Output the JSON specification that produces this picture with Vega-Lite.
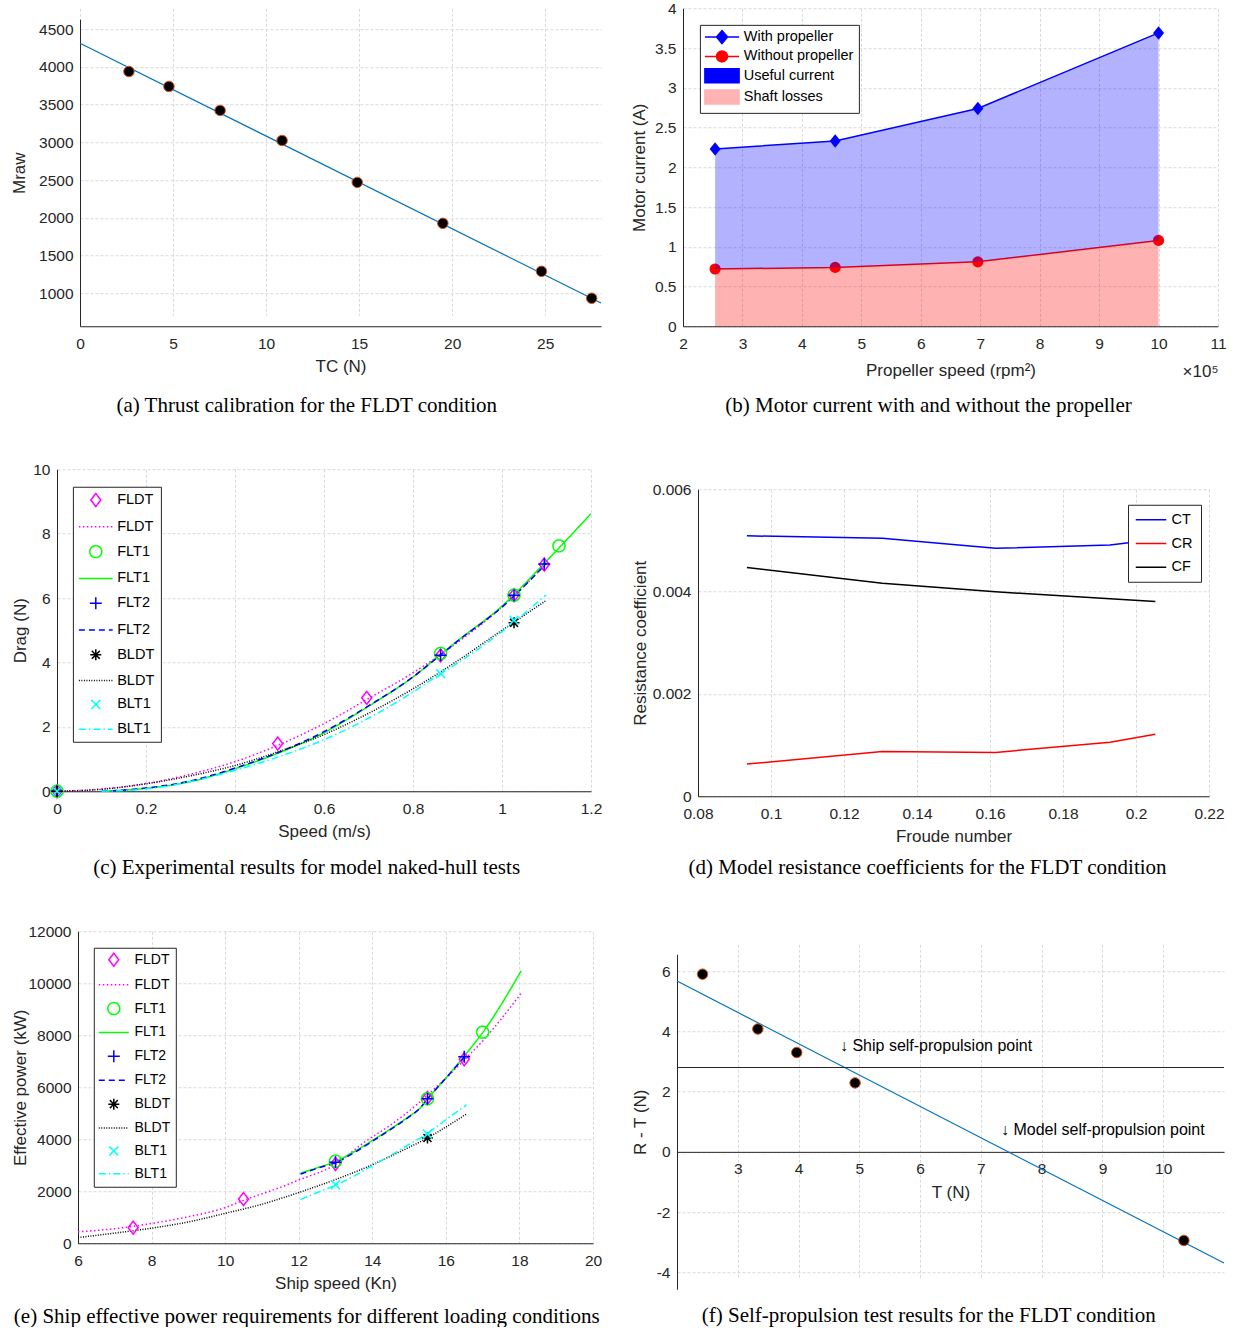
{
"$schema": "https://vega.github.io/schema/vega-lite/v6.json",
"background": "white",
"padding": {"left": 10, "top": 1.25, "right": 0, "bottom": 0},
"config": {
  "font": "Liberation Sans",
  "view": {"stroke": null},
  "axis": {"labelFont": "Liberation Sans", "titleFont": "Liberation Sans", "labelFontSize": 15.5, "titleFontSize": 17, "titleFontWeight": "normal", "labelColor": "#262626", "titleColor": "#262626", "domainColor": "#262626", "domainWidth": 1, "ticks": false, "gridColor": "#d9d9d9", "gridDash": [3, 2], "gridWidth": 1, "labelOverlap": false, "labelFlush": false, "labelBound": false},
  "axisX": {"labelPadding": 10, "titlePadding": 7.2},
  "axisY": {"labelPadding": 7},
  "title": {"font": "Liberation Serif", "fontSize": 21, "fontWeight": "normal", "color": "#000000", "orient": "bottom", "frame": "bounds", "anchor": "middle"},
  "legend": {"labelFont": "Liberation Sans", "labelColor": "#000000", "strokeColor": "#262626", "fillColor": "white", "symbolStrokeWidth": 1.5, "symbolSize": 100, "labelLimit": 400}
},
"resolve": {"scale": {"color": "independent", "shape": "independent", "strokeDash": "independent", "fill": "independent", "stroke": "independent"}, "legend": {"color": "independent", "shape": "independent", "strokeDash": "independent", "fill": "independent", "stroke": "independent"}},
"spacing": 26,
"hconcat": [
 {
  "spacing": 46,
  "resolve": {"scale": {"color": "independent", "shape": "independent", "strokeDash": "independent", "fill": "independent", "stroke": "independent"}, "legend": {"color": "independent", "shape": "independent", "strokeDash": "independent", "fill": "independent", "stroke": "independent"}},
  "vconcat": [
   {
    "width": 544, "height": 318,
    "title": {"text": "(a) Thrust calibration for the FLDT condition", "offset": 20},
    "layer": [
     {
      "data": {"values": [{"tc": 0, "m": 4315}, {"tc": 28, "m": 871}]},
      "mark": {"type": "line", "color": "#0072bd", "strokeWidth": 1.2},
      "encoding": {
       "x": {"field": "tc", "type": "quantitative", "scale": {"domain": [0, 28], "range": [23, 544], "nice": false, "zero": false}, "axis": {"title": "TC (N)", "values": [0, 5, 10, 15, 20, 25], "format": "d"}},
       "y": {"field": "m", "type": "quantitative", "scale": {"domain": [562.5, 4632.6], "range": [318, 11], "nice": false, "zero": false}, "axis": {"title": "Mraw", "values": [1000, 1500, 2000, 2500, 3000, 3500, 4000, 4500], "format": "d", "titlePadding": 10.5, "offset": -23}}
      }
     },
     {
      "data": {"values": [{"tc": 2.63, "m": 3940}, {"tc": 4.78, "m": 3742}, {"tc": 7.53, "m": 3424}, {"tc": 10.86, "m": 3026}, {"tc": 14.9, "m": 2470}, {"tc": 19.5, "m": 1927}, {"tc": 24.8, "m": 1291}, {"tc": 27.5, "m": 934}]},
      "mark": {"type": "point", "shape": "circle", "filled": true, "fill": "#000000", "stroke": "#d95319", "strokeWidth": 1, "size": 110, "opacity": 1},
      "encoding": {"x": {"field": "tc", "type": "quantitative"}, "y": {"field": "m", "type": "quantitative"}}
     }
    ]
   },
   {
    "width": 534, "height": 322,
    "title": {"text": "(c) Experimental results for model naked-hull tests", "offset": 17},
    "resolve": {"scale": {"color": "independent", "strokeDash": "independent", "shape": "independent"}},
    "layer": [
     {
      "data": {"values": [
       {"key": "FLDT-l", "v": 0, "d": 0}, {"key": "FLDT-l", "v": 0.1, "d": 0.07}, {"key": "FLDT-l", "v": 0.2, "d": 0.24}, {"key": "FLDT-l", "v": 0.3, "d": 0.53}, {"key": "FLDT-l", "v": 0.4, "d": 0.92}, {"key": "FLDT-l", "v": 0.5, "d": 1.45}, {"key": "FLDT-l", "v": 0.6, "d": 2.1}, {"key": "FLDT-l", "v": 0.7, "d": 2.88}, {"key": "FLDT-l", "v": 0.8, "d": 3.68}, {"key": "FLDT-l", "v": 0.9, "d": 4.62}, {"key": "FLDT-l", "v": 1.0, "d": 5.72}, {"key": "FLDT-l", "v": 1.1, "d": 7.08},
       {"key": "FLT1-l", "v": 0.1, "d": 0}, {"key": "FLT1-l", "v": 0.2, "d": 0.09}, {"key": "FLT1-l", "v": 0.3, "d": 0.3}, {"key": "FLT1-l", "v": 0.4, "d": 0.7}, {"key": "FLT1-l", "v": 0.5, "d": 1.2}, {"key": "FLT1-l", "v": 0.6, "d": 1.82}, {"key": "FLT1-l", "v": 0.7, "d": 2.64}, {"key": "FLT1-l", "v": 0.8, "d": 3.55}, {"key": "FLT1-l", "v": 0.862, "d": 4.25}, {"key": "FLT1-l", "v": 0.9, "d": 4.67}, {"key": "FLT1-l", "v": 1.0, "d": 5.75}, {"key": "FLT1-l", "v": 1.1, "d": 7.15}, {"key": "FLT1-l", "v": 1.2, "d": 8.62},
       {"key": "FLT2-l", "v": 0.1, "d": 0}, {"key": "FLT2-l", "v": 0.2, "d": 0.1}, {"key": "FLT2-l", "v": 0.3, "d": 0.32}, {"key": "FLT2-l", "v": 0.4, "d": 0.72}, {"key": "FLT2-l", "v": 0.5, "d": 1.22}, {"key": "FLT2-l", "v": 0.6, "d": 1.85}, {"key": "FLT2-l", "v": 0.7, "d": 2.65}, {"key": "FLT2-l", "v": 0.8, "d": 3.55}, {"key": "FLT2-l", "v": 0.862, "d": 4.23}, {"key": "FLT2-l", "v": 0.9, "d": 4.66}, {"key": "FLT2-l", "v": 1.0, "d": 5.72}, {"key": "FLT2-l", "v": 1.1, "d": 7.08},
       {"key": "BLDT-l", "v": 0, "d": 0}, {"key": "BLDT-l", "v": 0.1, "d": 0.06}, {"key": "BLDT-l", "v": 0.2, "d": 0.23}, {"key": "BLDT-l", "v": 0.3, "d": 0.48}, {"key": "BLDT-l", "v": 0.4, "d": 0.8}, {"key": "BLDT-l", "v": 0.5, "d": 1.24}, {"key": "BLDT-l", "v": 0.6, "d": 1.76}, {"key": "BLDT-l", "v": 0.7, "d": 2.42}, {"key": "BLDT-l", "v": 0.8, "d": 3.18}, {"key": "BLDT-l", "v": 0.9, "d": 4.05}, {"key": "BLDT-l", "v": 1.0, "d": 5.0}, {"key": "BLDT-l", "v": 1.1, "d": 5.93},
       {"key": "BLT1-l", "v": 0.1, "d": 0}, {"key": "BLT1-l", "v": 0.2, "d": 0.07}, {"key": "BLT1-l", "v": 0.3, "d": 0.3}, {"key": "BLT1-l", "v": 0.4, "d": 0.65}, {"key": "BLT1-l", "v": 0.5, "d": 1.08}, {"key": "BLT1-l", "v": 0.6, "d": 1.6}, {"key": "BLT1-l", "v": 0.7, "d": 2.27}, {"key": "BLT1-l", "v": 0.8, "d": 3.08}, {"key": "BLT1-l", "v": 0.862, "d": 3.65}, {"key": "BLT1-l", "v": 0.9, "d": 3.98}, {"key": "BLT1-l", "v": 1.0, "d": 4.96}, {"key": "BLT1-l", "v": 1.1, "d": 6.11}
      ]},
      "mark": {"type": "line", "strokeWidth": 1.5, "interpolate": "monotone"},
      "encoding": {
       "x": {"field": "v", "type": "quantitative", "scale": {"domain": [0, 1.2], "nice": false, "zero": false}, "axis": {"title": "Speed (m/s)", "values": [0, 0.2, 0.4, 0.6, 0.8, 1, 1.2], "format": "~g"}},
       "y": {"field": "d", "type": "quantitative", "scale": {"domain": [0, 10], "nice": false}, "axis": {"title": "Drag (N)", "values": [0, 2, 4, 6, 8, 10], "format": "d", "titlePadding": 3.3}},
       "color": {"field": "key", "type": "nominal", "scale": {"domain": ["FLDT-l", "FLT1-l", "FLT2-l", "BLDT-l", "BLT1-l"], "range": ["#ff00ff", "#00ff00", "#0000ff", "#000000", "#00ffff"]}, "legend": null},
       "strokeDash": {"field": "key", "type": "nominal", "scale": {"domain": ["FLDT-l", "FLT1-l", "FLT2-l", "BLDT-l", "BLT1-l"], "range": [[1.5, 2.5], [1, 0], [6, 4], [1, 1.5], [7, 3, 1.5, 3]]}, "legend": null}
      }
     },
     {
      "data": {"values": [
       {"key": "FLDT-m", "v": 0, "d": 0}, {"key": "FLDT-m", "v": 0.496, "d": 1.48}, {"key": "FLDT-m", "v": 0.696, "d": 2.9}, {"key": "FLDT-m", "v": 0.862, "d": 4.22}, {"key": "FLDT-m", "v": 1.027, "d": 6.09}, {"key": "FLDT-m", "v": 1.095, "d": 7.04},
       {"key": "FLT1-m", "v": 0, "d": 0}, {"key": "FLT1-m", "v": 0.862, "d": 4.28}, {"key": "FLT1-m", "v": 1.027, "d": 6.09}, {"key": "FLT1-m", "v": 1.128, "d": 7.62},
       {"key": "FLT2-m", "v": 0, "d": 0}, {"key": "FLT2-m", "v": 0.862, "d": 4.22}, {"key": "FLT2-m", "v": 1.027, "d": 6.09}, {"key": "FLT2-m", "v": 1.095, "d": 7.06},
       {"key": "BLDT-m", "v": 0, "d": 0}, {"key": "BLDT-m", "v": 1.027, "d": 5.23},
       {"key": "BLT1-m", "v": 0, "d": 0}, {"key": "BLT1-m", "v": 0.862, "d": 3.65}, {"key": "BLT1-m", "v": 1.027, "d": 5.31}
      ]},
      "mark": {"type": "point", "filled": false, "size": 100, "strokeWidth": 1.5, "opacity": 1},
      "encoding": {
       "x": {"field": "v", "type": "quantitative"},
       "y": {"field": "d", "type": "quantitative"},
       "color": {"field": "key", "type": "nominal", "scale": {"domain": ["FLDT-m", "FLDT-l", "FLT1-m", "FLT1-l", "FLT2-m", "FLT2-l", "BLDT-m", "BLDT-l", "BLT1-m", "BLT1-l"], "range": ["#ff00ff", "#ff00ff", "#00ff00", "#00ff00", "#0000ff", "#0000ff", "#000000", "#000000", "#00ffff", "#00ffff"]},
        "legend": {"title": null, "orient": "none", "legendX": 15.9, "legendY": 17.5, "direction": "vertical", "padding": 6, "rowPadding": 8.8, "symbolOffset": 9.65, "labelOffset": 14.15, "labelFontSize": 14.5, "labelExpr": "split(datum.label, '-')[0]"}},
       "shape": {"field": "key", "type": "nominal", "scale": {"domain": ["FLDT-m", "FLDT-l", "FLT1-m", "FLT1-l", "FLT2-m", "FLT2-l", "BLDT-m", "BLDT-l", "BLT1-m", "BLT1-l"], "range": ["M0,-1.3L1,0L0,1.3L-1,0Z", "M-3.38,0H3.38", "M1.2,0A1.2,1.2,0,1,1,-1.2,0A1.2,1.2,0,1,1,1.2,0Z", "M-3.38,0H3.38", "M-1.2,0H1.2M0,-1.2V1.2", "M-3.38,0H3.38", "M-1.1,0H1.1M0,-1.1V1.1M-0.8,-0.8L0.8,0.8M-0.8,0.8L0.8,-0.8", "M-3.38,0H3.38", "M-0.9,-0.9L0.9,0.9M-0.9,0.9L0.9,-0.9", "M-3.38,0H3.38"]},
        "legend": {"title": null, "orient": "none", "legendX": 15.9, "legendY": 17.5, "direction": "vertical", "padding": 6, "rowPadding": 8.8, "symbolOffset": 9.65, "labelOffset": 14.15, "labelFontSize": 14.5, "labelExpr": "split(datum.label, '-')[0]"}},
       "strokeDash": {"field": "key", "type": "nominal", "scale": {"domain": ["FLDT-m", "FLDT-l", "FLT1-m", "FLT1-l", "FLT2-m", "FLT2-l", "BLDT-m", "BLDT-l", "BLT1-m", "BLT1-l"], "range": [[1, 0], [1.5, 2.5], [1, 0], [1, 0], [1, 0], [6, 4], [1, 0], [1, 1.5], [1, 0], [7, 3, 1.5, 3]]},
        "legend": {"title": null, "orient": "none", "legendX": 15.9, "legendY": 17.5, "direction": "vertical", "padding": 6, "rowPadding": 8.8, "symbolOffset": 9.65, "labelOffset": 14.15, "labelFontSize": 14.5, "labelExpr": "split(datum.label, '-')[0]"}}
      }
     }
    ]
   },
   {
    "width": 536, "height": 312,
    "title": {"text": "(e) Ship effective power requirements for different loading conditions", "offset": 14},
    "resolve": {"scale": {"color": "independent", "strokeDash": "independent", "shape": "independent"}},
    "layer": [
     {
      "data": {"values": [
       {"key": "FLDT-l", "v": 6, "p": 440}, {"key": "FLDT-l", "v": 7, "p": 560}, {"key": "FLDT-l", "v": 8, "p": 760}, {"key": "FLDT-l", "v": 9, "p": 1020}, {"key": "FLDT-l", "v": 10, "p": 1370}, {"key": "FLDT-l", "v": 10.5, "p": 1650}, {"key": "FLDT-l", "v": 11, "p": 1900}, {"key": "FLDT-l", "v": 11.5, "p": 2150}, {"key": "FLDT-l", "v": 12, "p": 2430}, {"key": "FLDT-l", "v": 13, "p": 3030}, {"key": "FLDT-l", "v": 13.75, "p": 3850}, {"key": "FLDT-l", "v": 14.5, "p": 4550}, {"key": "FLDT-l", "v": 15.2, "p": 5320}, {"key": "FLDT-l", "v": 15.5, "p": 5700}, {"key": "FLDT-l", "v": 16, "p": 6350}, {"key": "FLDT-l", "v": 16.5, "p": 7050}, {"key": "FLDT-l", "v": 17, "p": 7780}, {"key": "FLDT-l", "v": 18.05, "p": 9620},
       {"key": "FLT1-l", "v": 12.05, "p": 2700}, {"key": "FLT1-l", "v": 12.5, "p": 2900}, {"key": "FLT1-l", "v": 13, "p": 3150}, {"key": "FLT1-l", "v": 13.5, "p": 3520}, {"key": "FLT1-l", "v": 14, "p": 3950}, {"key": "FLT1-l", "v": 14.5, "p": 4400}, {"key": "FLT1-l", "v": 15, "p": 4880}, {"key": "FLT1-l", "v": 15.3, "p": 5200}, {"key": "FLT1-l", "v": 15.5, "p": 5550}, {"key": "FLT1-l", "v": 16, "p": 6350}, {"key": "FLT1-l", "v": 16.5, "p": 7200}, {"key": "FLT1-l", "v": 17, "p": 8100}, {"key": "FLT1-l", "v": 18.05, "p": 10480},
       {"key": "FLT2-l", "v": 12.05, "p": 2660}, {"key": "FLT2-l", "v": 12.5, "p": 2880}, {"key": "FLT2-l", "v": 13, "p": 3100}, {"key": "FLT2-l", "v": 13.5, "p": 3480}, {"key": "FLT2-l", "v": 14, "p": 3920}, {"key": "FLT2-l", "v": 14.5, "p": 4380}, {"key": "FLT2-l", "v": 15, "p": 4860}, {"key": "FLT2-l", "v": 15.3, "p": 5200}, {"key": "FLT2-l", "v": 15.5, "p": 5550}, {"key": "FLT2-l", "v": 16, "p": 6350}, {"key": "FLT2-l", "v": 16.5, "p": 7150},
       {"key": "BLDT-l", "v": 6, "p": 220}, {"key": "BLDT-l", "v": 7, "p": 390}, {"key": "BLDT-l", "v": 8, "p": 580}, {"key": "BLDT-l", "v": 9, "p": 820}, {"key": "BLDT-l", "v": 10, "p": 1150}, {"key": "BLDT-l", "v": 11, "p": 1500}, {"key": "BLDT-l", "v": 12, "p": 1950}, {"key": "BLDT-l", "v": 13, "p": 2450}, {"key": "BLDT-l", "v": 14, "p": 3020}, {"key": "BLDT-l", "v": 14.5, "p": 3350}, {"key": "BLDT-l", "v": 15, "p": 3690}, {"key": "BLDT-l", "v": 15.5, "p": 4050}, {"key": "BLDT-l", "v": 16, "p": 4470}, {"key": "BLDT-l", "v": 16.56, "p": 4970},
       {"key": "BLT1-l", "v": 12.05, "p": 1680}, {"key": "BLT1-l", "v": 12.5, "p": 1950}, {"key": "BLT1-l", "v": 13, "p": 2230}, {"key": "BLT1-l", "v": 13.5, "p": 2580}, {"key": "BLT1-l", "v": 14, "p": 2980}, {"key": "BLT1-l", "v": 14.5, "p": 3380}, {"key": "BLT1-l", "v": 15, "p": 3800}, {"key": "BLT1-l", "v": 15.5, "p": 4230}, {"key": "BLT1-l", "v": 16, "p": 4750}, {"key": "BLT1-l", "v": 16.56, "p": 5320}
      ]},
      "mark": {"type": "line", "strokeWidth": 1.5, "interpolate": "monotone"},
      "encoding": {
       "x": {"field": "v", "type": "quantitative", "scale": {"domain": [6, 20], "range": [21, 536], "nice": false, "zero": false}, "axis": {"title": "Ship speed (Kn)", "values": [6, 8, 10, 12, 14, 16, 18, 20], "format": "d"}},
       "y": {"field": "p", "type": "quantitative", "scale": {"domain": [0, 12000], "nice": false}, "axis": {"title": "Effective power (kW)", "values": [0, 2000, 4000, 6000, 8000, 10000, 12000], "format": "d", "titlePadding": -2, "offset": -21}},
       "color": {"field": "key", "type": "nominal", "scale": {"domain": ["FLDT-l", "FLT1-l", "FLT2-l", "BLDT-l", "BLT1-l"], "range": ["#ff00ff", "#00ff00", "#0000ff", "#000000", "#00ffff"]}, "legend": null},
       "strokeDash": {"field": "key", "type": "nominal", "scale": {"domain": ["FLDT-l", "FLT1-l", "FLT2-l", "BLDT-l", "BLT1-l"], "range": [[1.5, 2.5], [1, 0], [6, 4], [1, 1.5], [7, 3, 1.5, 3]]}, "legend": null}
      }
     },
     {
      "data": {"values": [
       {"key": "FLDT-m", "v": 7.5, "p": 600}, {"key": "FLDT-m", "v": 10.5, "p": 1700}, {"key": "FLDT-m", "v": 13, "p": 3050}, {"key": "FLDT-m", "v": 15.5, "p": 5590}, {"key": "FLDT-m", "v": 16.5, "p": 7080},
       {"key": "FLT1-m", "v": 13, "p": 3160}, {"key": "FLT1-m", "v": 15.5, "p": 5560}, {"key": "FLT1-m", "v": 17, "p": 8120},
       {"key": "FLT2-m", "v": 13, "p": 3120}, {"key": "FLT2-m", "v": 15.5, "p": 5560}, {"key": "FLT2-m", "v": 16.5, "p": 7170},
       {"key": "BLDT-m", "v": 15.5, "p": 4050},
       {"key": "BLT1-m", "v": 13, "p": 2250}, {"key": "BLT1-m", "v": 15.5, "p": 4200}
      ]},
      "mark": {"type": "point", "filled": false, "size": 100, "strokeWidth": 1.5, "opacity": 1},
      "encoding": {
       "x": {"field": "v", "type": "quantitative"},
       "y": {"field": "p", "type": "quantitative"},
       "color": {"field": "key", "type": "nominal", "scale": {"domain": ["FLDT-m", "FLDT-l", "FLT1-m", "FLT1-l", "FLT2-m", "FLT2-l", "BLDT-m", "BLDT-l", "BLT1-m", "BLT1-l"], "range": ["#ff00ff", "#ff00ff", "#00ff00", "#00ff00", "#0000ff", "#0000ff", "#000000", "#000000", "#00ffff", "#00ffff"]},
        "legend": {"title": null, "orient": "none", "legendX": 36.8, "legendY": 16.5, "direction": "vertical", "padding": 5, "rowPadding": 7.9, "symbolOffset": 8, "labelOffset": 13.7, "labelFontSize": 14, "labelExpr": "split(datum.label, '-')[0]"}},
       "shape": {"field": "key", "type": "nominal", "scale": {"domain": ["FLDT-m", "FLDT-l", "FLT1-m", "FLT1-l", "FLT2-m", "FLT2-l", "BLDT-m", "BLDT-l", "BLT1-m", "BLT1-l"], "range": ["M0,-1.3L1,0L0,1.3L-1,0Z", "M-3,0H3", "M1.2,0A1.2,1.2,0,1,1,-1.2,0A1.2,1.2,0,1,1,1.2,0Z", "M-3,0H3", "M-1.2,0H1.2M0,-1.2V1.2", "M-3,0H3", "M-1.1,0H1.1M0,-1.1V1.1M-0.8,-0.8L0.8,0.8M-0.8,0.8L0.8,-0.8", "M-3,0H3", "M-0.9,-0.9L0.9,0.9M-0.9,0.9L0.9,-0.9", "M-3,0H3"]},
        "legend": {"title": null, "orient": "none", "legendX": 36.8, "legendY": 16.5, "direction": "vertical", "padding": 5, "rowPadding": 7.9, "symbolOffset": 8, "labelOffset": 13.7, "labelFontSize": 14, "labelExpr": "split(datum.label, '-')[0]"}},
       "strokeDash": {"field": "key", "type": "nominal", "scale": {"domain": ["FLDT-m", "FLDT-l", "FLT1-m", "FLT1-l", "FLT2-m", "FLT2-l", "BLDT-m", "BLDT-l", "BLT1-m", "BLT1-l"], "range": [[1, 0], [1.5, 2.5], [1, 0], [1, 0], [1, 0], [6, 4], [1, 0], [1, 1.5], [1, 0], [7, 3, 1.5, 3]]},
        "legend": {"title": null, "orient": "none", "legendX": 36.8, "legendY": 16.5, "direction": "vertical", "padding": 5, "rowPadding": 7.9, "symbolOffset": 8, "labelOffset": 13.7, "labelFontSize": 14, "labelExpr": "split(datum.label, '-')[0]"}}
      }
     }
    ]
   }
  ]
 },
 {
  "spacing": 66,
  "resolve": {"scale": {"color": "independent", "shape": "independent", "strokeDash": "independent", "fill": "independent", "stroke": "independent"}, "legend": {"color": "independent", "shape": "independent", "strokeDash": "independent", "fill": "independent", "stroke": "independent"}},
  "vconcat": [
   {
    "width": 541, "height": 318,
    "title": {"text": "(b) Motor current with and without the propeller", "offset": 16},
    "data": {"values": [{"speed": 254000, "with": 2.23, "without": 0.72}, {"speed": 456000, "with": 2.33, "without": 0.74}, {"speed": 696000, "with": 2.74, "without": 0.81}, {"speed": 1000000, "with": 3.69, "without": 1.08}]},
    "layer": [
     {
      "mark": {"type": "area", "color": "#ff0000", "opacity": 0.3},
      "encoding": {
       "x": {"field": "speed", "type": "quantitative", "scale": {"domain": [200000, 1100000], "range": [6, 541], "nice": false, "zero": false}, "axis": {"title": "Propeller speed (rpm²)", "values": [200000, 300000, 400000, 500000, 600000, 700000, 800000, 900000, 1000000, 1100000], "labelExpr": "format(datum.value / 100000, 'd')", "titlePadding": 11.2}},
       "y": {"field": "without", "type": "quantitative", "scale": {"domain": [0, 4], "nice": false}, "axis": {"title": "Motor current (A)", "values": [0, 0.5, 1, 1.5, 2, 2.5, 3, 3.5, 4], "format": "~g", "titlePadding": 5.5, "offset": -6}}
      }
     },
     {
      "mark": {"type": "line", "color": "#ff0000", "strokeWidth": 1.5},
      "encoding": {"x": {"field": "speed", "type": "quantitative", "axis": null}, "y": {"field": "without", "type": "quantitative", "axis": {"title": "Motor current (A)", "values": [0, 0.5, 1, 1.5, 2, 2.5, 3, 3.5, 4], "format": "~g", "titlePadding": 5.5, "offset": -6}}}
     },
     {
      "mark": {"type": "point", "shape": "circle", "filled": true, "color": "#ff0000", "size": 125, "opacity": 1},
      "encoding": {"x": {"field": "speed", "type": "quantitative", "axis": null}, "y": {"field": "without", "type": "quantitative", "axis": {"title": "Motor current (A)", "values": [0, 0.5, 1, 1.5, 2, 2.5, 3, 3.5, 4], "format": "~g", "titlePadding": 5.5, "offset": -6}}}
     },
     {
      "mark": {"type": "area", "color": "#0000ff", "opacity": 0.3},
      "encoding": {"x": {"field": "speed", "type": "quantitative", "axis": null}, "y": {"field": "with", "type": "quantitative", "axis": {"title": "Motor current (A)", "values": [0, 0.5, 1, 1.5, 2, 2.5, 3, 3.5, 4], "format": "~g", "titlePadding": 5.5, "offset": -6}}, "y2": {"field": "without"}}
     },
     {
      "mark": {"type": "line", "color": "#0000ff", "strokeWidth": 1.5},
      "encoding": {"x": {"field": "speed", "type": "quantitative", "axis": {"orient": "bottom", "title": "×10⁵", "titleAnchor": "end", "titleAlign": "right", "labels": false, "domain": false, "ticks": false, "grid": false, "titlePadding": 37}}, "y": {"field": "with", "type": "quantitative", "axis": {"title": "Motor current (A)", "values": [0, 0.5, 1, 1.5, 2, 2.5, 3, 3.5, 4], "format": "~g", "titlePadding": 5.5, "offset": -6}}}
     },
     {
      "mark": {"type": "point", "shape": "M0,-1.35L1.1,0L0,1.35L-1.1,0Z", "filled": true, "color": "#0000ff", "size": 100, "opacity": 1},
      "encoding": {"x": {"field": "speed", "type": "quantitative", "axis": null}, "y": {"field": "with", "type": "quantitative", "axis": {"title": "Motor current (A)", "values": [0, 0.5, 1, 1.5, 2, 2.5, 3, 3.5, 4], "format": "~g", "titlePadding": 5.5, "offset": -6}}}
     },
     {
      "data": {"values": [{"series": "With propeller"}, {"series": "Without propeller"}, {"series": "Useful current"}, {"series": "Shaft losses"}]},
      "mark": {"type": "point", "filled": true, "opacity": 0},
      "encoding": {
       "fill": {"field": "series", "type": "nominal", "scale": {"domain": ["With propeller", "Without propeller", "Useful current", "Shaft losses"], "range": ["#0000ff", "#ff0000", "#0000ff", "#ffb3b3"]},
        "legend": {"title": null, "orient": "none", "legendX": 22.9, "legendY": 16.6, "direction": "vertical", "padding": 5, "rowPadding": 0.3, "symbolOffset": 9.85, "labelOffset": 14.55, "labelFontSize": 14.5, "symbolOpacity": 1}},
       "stroke": {"field": "series", "type": "nominal", "scale": {"domain": ["With propeller", "Without propeller", "Useful current", "Shaft losses"], "range": ["#0000ff", "#ff0000", "#0000ff", "#ffb3b3"]},
        "legend": {"title": null, "orient": "none", "legendX": 22.9, "legendY": 16.6, "direction": "vertical", "padding": 5, "rowPadding": 0.3, "symbolOffset": 9.85, "labelOffset": 14.55, "labelFontSize": 14.5, "symbolOpacity": 1}},
       "shape": {"field": "series", "type": "nominal", "scale": {"domain": ["With propeller", "Without propeller", "Useful current", "Shaft losses"], "range": ["M-3.42,0H3.42M0,-1.3L1.1,0L0,1.3L-1.1,0Z", "M-3.42,0H3.42M1.1,0A1.1,1.1,0,1,1,-1.1,0A1.1,1.1,0,1,1,1.1,0Z", "M-3.42,-1.4H3.42V1.4H-3.42Z", "M-3.42,-1.4H3.42V1.4H-3.42Z"]},
        "legend": {"title": null, "orient": "none", "legendX": 22.9, "legendY": 16.6, "direction": "vertical", "padding": 5, "rowPadding": 0.3, "symbolOffset": 9.85, "labelOffset": 14.55, "labelFontSize": 14.5, "symbolOpacity": 1}}
      }
     }
    ],
    "resolve": {"axis": {"x": "independent"}}
   },
   {
    "width": 532, "height": 307,
    "title": {"text": "(d) Model resistance coefficients for the FLDT condition", "offset": 12},
    "data": {"values": [
     {"s": "CT", "fr": 0.0934, "c": 0.00509}, {"s": "CT", "fr": 0.1305, "c": 0.00504}, {"s": "CT", "fr": 0.1615, "c": 0.004846}, {"s": "CT", "fr": 0.1929, "c": 0.00491}, {"s": "CT", "fr": 0.2053, "c": 0.00502},
     {"s": "CR", "fr": 0.0934, "c": 0.000629}, {"s": "CR", "fr": 0.1305, "c": 0.000876}, {"s": "CR", "fr": 0.1615, "c": 0.000856}, {"s": "CR", "fr": 0.1929, "c": 0.001057}, {"s": "CR", "fr": 0.2053, "c": 0.00121},
     {"s": "CF", "fr": 0.0934, "c": 0.00447}, {"s": "CF", "fr": 0.1305, "c": 0.004165}, {"s": "CF", "fr": 0.1615, "c": 0.003996}, {"s": "CF", "fr": 0.1929, "c": 0.00386}, {"s": "CF", "fr": 0.2053, "c": 0.003808}
    ]},
    "mark": {"type": "line", "strokeWidth": 1.5},
    "encoding": {
     "x": {"field": "fr", "type": "quantitative", "scale": {"domain": [0.08, 0.22], "range": [21, 532], "nice": false, "zero": false}, "axis": {"title": "Froude number", "values": [0.08, 0.1, 0.12, 0.14, 0.16, 0.18, 0.2, 0.22], "format": "~g"}},
     "y": {"field": "c", "type": "quantitative", "scale": {"domain": [0, 0.006], "nice": false}, "axis": {"title": "Resistance coefficient", "values": [0, 0.002, 0.004, 0.006], "format": "~g", "titlePadding": 3.2, "offset": -21}},
     "color": {"field": "s", "type": "nominal", "scale": {"domain": ["CT", "CR", "CF"], "range": ["#0000ff", "#ff0000", "#000000"]},
      "legend": {"title": null, "orient": "none", "legendX": 451, "legendY": 15.5, "direction": "vertical", "padding": 7.75, "rowPadding": 8.75, "symbolOffset": 8, "labelOffset": 13.25, "labelFontSize": 14.5, "symbolType": "M-3.05,0H3.05", "symbolSize": 100}}
    }
   },
   {
    "width": 547, "height": 345,
    "title": {"text": "(f) Self-propulsion test results for the FLDT condition", "offset": 15.8},
    "layer": [
     {
      "data": {"values": [{"t": 2, "r": 5.67}, {"t": 11, "r": -3.69}]},
      "mark": {"type": "line", "color": "#0072bd", "strokeWidth": 1.2},
      "encoding": {
       "x": {"field": "t", "type": "quantitative", "scale": {"domain": [2, 11], "nice": false, "zero": false}, "axis": {"title": "T (N)", "values": [3, 4, 5, 6, 7, 8, 9, 10], "format": "d", "offset": -137.4}},
       "y": {"field": "r", "type": "quantitative", "scale": {"domain": [-4.56, 6.56], "range": [345, 10], "nice": false, "zero": false}, "axis": {"title": "R - T (N)", "values": [-4, -2, 0, 2, 4, 6], "labelExpr": "toString(datum.value)", "titlePadding": 7.2}}
      }
     },
     {
      "data": {"values": [{"r": 2.8}]},
      "mark": {"type": "rule", "color": "#262626", "strokeWidth": 1},
      "encoding": {"y": {"field": "r", "type": "quantitative"}}
     },
     {
      "data": {"values": [{"t": 2.42, "r": 5.9}, {"t": 3.33, "r": 4.08}, {"t": 3.97, "r": 3.3}, {"t": 4.93, "r": 2.29}, {"t": 10.34, "r": -2.94}]},
      "mark": {"type": "point", "shape": "circle", "filled": true, "fill": "#000000", "stroke": "#d95319", "strokeWidth": 1, "size": 110, "opacity": 1},
      "encoding": {"x": {"field": "t", "type": "quantitative"}, "y": {"field": "r", "type": "quantitative"}}
     },
     {
      "data": {"values": [{"t": 4.78, "r": 2.8, "label": "↓ Ship self-propulsion point"}, {"t": 7.43, "r": 0, "label": "↓ Model self-propulsion point"}]},
      "mark": {"type": "text", "align": "left", "baseline": "middle", "font": "Liberation Sans", "fontSize": 16, "color": "#000000", "dx": -6, "dy": -22},
      "encoding": {"x": {"field": "t", "type": "quantitative"}, "y": {"field": "r", "type": "quantitative"}, "text": {"field": "label"}}
     }
    ]
   }
  ]
 }
]
}
